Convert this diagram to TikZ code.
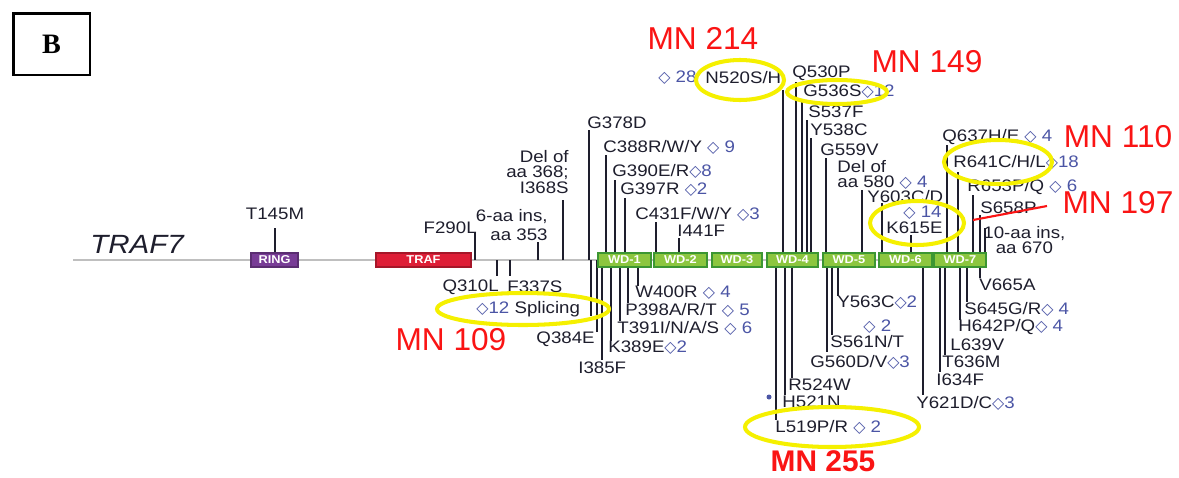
\documentclass[tikz,border=0pt]{standalone}
\usepackage{fontspec}
\setmainfont[FakeStretch=1.12]{Liberation Sans}
\newfontfamily\mnfont{Liberation Sans}
\newfontfamily\panelfont{Liberation Serif}
\newfontfamily\symfont[Scale=0.95]{DejaVu Sans}
\usetikzlibrary{positioning}
\definecolor{ink}{RGB}{30,30,45}
\definecolor{cblue}{RGB}{75,85,165}
\definecolor{ringc}{RGB}{120,60,150}
\definecolor{trafc}{RGB}{222,30,55}
\definecolor{wdc}{RGB}{140,198,63}
\definecolor{wdline}{RGB}{60,150,50}
\definecolor{hl}{RGB}{245,240,0}
\definecolor{mnred}{RGB}{250,20,20}
\newcommand\dia{{\symfont ◇}}
\newcommand\cnt[1]{\textcolor{cblue}{#1}}
\tikzset{
  lab/.style={font=\fontsize{9.5}{9}\selectfont,text=ink,inner sep=0pt,anchor=west},
  labr/.style={lab,anchor=east,align=right},
  tick/.style={draw=ink,line width=0.7pt},
  backbone/.style={draw=black!25,line width=1.2pt},
  dom/.style={fill=#1,draw=#1!75!black,line width=0.6pt,text=white,inner sep=0pt,
    minimum height=0.28cm,font=\fontsize{6.5}{7}\selectfont\bfseries},
  dom/.default=wdc,
  hlring/.style={draw=hl,line width=2.3pt},
  mn/.style={text=mnred,font=\mnfont\fontsize{18}{20}\selectfont,inner sep=0pt},
}
\begin{document}
\begin{tikzpicture}[x=0.02cm,y=-0.02cm]
  \useasboundingbox (0,0) rectangle (1179,477);
  \node[draw,line width=1.7pt,minimum width=1.54cm,minimum height=1.24cm,
    font=\panelfont\bfseries\fontsize{16}{18}\selectfont] (panel) at (51.5,44) {B};

  % backbone and ticks
  \coordinate (bb-l) at (73,260);
  \coordinate (bb-r) at (986,260);
  \draw[backbone] (bb-l) -- (bb-r);
  \foreach \x/\y in {275/228,475/233,538/242,563/200,589/130,606/155,615/180,625/198,
      656/222,679/238,783/90,796/82,802/100,807/120,811/138,826/158,862/190,882/203,
      911/235,947/145,958/172,973/195,980/215,985/228}
    \draw[tick] (\x,260) -- (\x,\y);
  \foreach \x/\y in {497/276,510/276,591/316,597/332,602/360,611/341,620/321,628/303,
      638/286,776/420,785/395,792/378,827/352,832/335,838/296,923/395,940/372,945/355,
      960/320,967/302,980/278}
    \draw[tick] (\x,260) -- (\x,\y);

  \node[font=\itshape\fontsize{15}{16}\selectfont,text=ink,inner sep=0pt,anchor=west] (gene) at (90,244) {TRAF7};
  \node[dom=ringc,minimum width=0.94cm] (ring) at (274.5,260) {RING};
  \node[dom=trafc,minimum width=1.9cm] (traf) at (423.5,260) {TRAF};
  \foreach \i/\a/\w in {1/624.5/1.06,2/680.5/1.06,3/737/1.0,4/792.5/1.02,5/849/1.04,6/905.5/1.06,7/960/1.04}
    \node[dom,draw=wdline,minimum width=\w cm] (wd\i) at (\a,260) {WD-\i};

  % above the protein
  \node[lab,anchor=center] (t145m) at (275,214) {T145M};
  \node[labr] (f290l) at (477,228) {F290L};
  \node[labr] (ins353) at (548,225) {6-aa ins,\\[2pt]aa 353};
  \node[labr] (del368) at (569,172) {Del of\\aa 368;\\I368S};
  \node[lab] (g378d) at (587,123) {G378D};
  \node[lab] (c388) at (603,147) {C388R/W/Y \cnt{\dia\ 9}};
  \node[lab] (g390) at (612,171) {G390E/R\cnt{\dia8}};
  \node[lab] (g397) at (620,190) {G397R \cnt{\dia2}};
  \node[lab] (c431) at (635,214) {C431F/W/Y \cnt{\dia3}};
  \node[lab] (i441) at (677,231) {I441F};
  \node[lab] (n28) at (658,78) {\cnt{\dia\ 28}};
  \node[lab] (n520) at (705,78) {N520S/H};
  \node[lab] (q530) at (792,73) {Q530P};
  \node[lab] (g536) at (803,92) {G536S\cnt{\dia12}};
  \node[lab] (s537) at (808,112) {S537F};
  \node[lab] (y538) at (810,130) {Y538C};
  \node[lab] (g559) at (820,150) {G559V};
  \node[lab,align=left] (del580) at (837,175) {Del of\\aa 580 \cnt{\dia\ 4}};
  \node[lab] (y603) at (867,197) {Y603C/D};
  \node[lab] (n14) at (903,213) {\cnt{\dia\ 14}};
  \node[lab] (k615) at (886,228) {K615E};
  \node[lab] (q637) at (942,137) {Q637H/E \cnt{\dia\ 4}};
  \node[lab] (r641) at (953,162) {R641C/H/L\cnt{\dia18}};
  \node[lab] (r653) at (967,187) {R653P/Q \cnt{\dia\ 6}};
  \node[lab] (s658) at (980,208) {S658P};
  \node[lab,align=center] (ins670) at (983,240) {10-aa ins,\\aa 670};

  % below the protein
  \node[labr] (q310) at (499,287) {Q310L};
  \node[lab] (f337) at (507,287) {F337S};
  \node[lab] (splice) at (476,309) {\cnt{\dia12} Splicing};
  \node[labr] (q384) at (595,339) {Q384E};
  \node[lab] (i385) at (578,368) {I385F};
  \node[lab] (k389) at (608,348) {K389E\cnt{\dia2}};
  \node[lab] (t391) at (617,328) {T391I/N/A/S \cnt{\dia\ 6}};
  \node[lab] (p398) at (625,310) {P398A/R/T \cnt{\dia\ 5}};
  \node[lab] (w400) at (635,293) {W400R \cnt{\dia\ 4}};
  \node[lab] (l519) at (775,427) {L519P/R \cnt{\dia\ 2}};
  \node[lab] (h521) at (782,402) {H521N};
  \node[lab] (r524) at (788,385) {R524W};
  \node[lab] (g560) at (810,362) {G560D/V\cnt{\dia3}};
  \node[lab] (s561) at (830,342) {S561N/T};
  \node[lab] (n2) at (863,327) {\cnt{\dia\ 2}};
  \node[lab] (y563) at (837,303) {Y563C\cnt{\dia2}};
  \node[lab] (y621) at (916,403) {Y621D/C\cnt{\dia3}};
  \node[lab] (i634) at (936,380) {I634F};
  \node[lab] (t636) at (942,362) {T636M};
  \node[lab] (l639) at (950,345) {L639V};
  \node[lab] (h642) at (958,327) {H642P/Q\cnt{\dia\ 4}};
  \node[lab] (s645) at (964,309) {S645G/R\cnt{\dia\ 4}};
  \node[lab] (v665) at (979,285) {V665A};
  \fill[cblue] (769,397) circle[radius=0.05cm];

  % highlighted cases
  \draw[hlring] (523,309) ellipse[x radius=86,y radius=16];
  \draw[hlring] (740,80) ellipse[x radius=44,y radius=20];
  \draw[hlring] (837,92) ellipse[x radius=50,y radius=12];
  \draw[hlring] (998,162) ellipse[x radius=54,y radius=22];
  \draw[hlring] (917,223) ellipse[x radius=47,y radius=22];
  \draw[hlring] (832,427) ellipse[x radius=87,y radius=20];
  \draw[mnred,line width=1.2pt] (973,220) -- (1047,206);
  \node[mn] (mn214) at (703,38) {MN 214};
  \node[mn] (mn149) at (927,62) {MN 149};
  \node[mn] (mn110) at (1118,137) {MN 110};
  \node[mn] (mn197) at (1118,203) {MN 197};
  \node[mn] (mn109) at (451,340) {MN 109};
  \node[mn,font=\mnfont\bfseries\fontsize{17}{19}\selectfont] (mn255) at (823,461) {MN 255};
\end{tikzpicture}
\end{document}
